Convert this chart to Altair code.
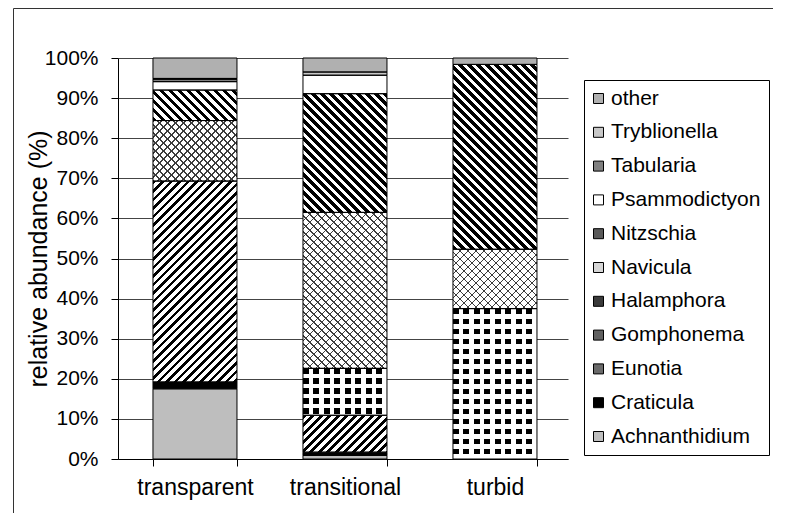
import altair as alt
import pandas as pd

# ---------------- data ----------------
categories = ["transparent", "transitional", "turbid"]
species = ["Achnanthidium", "Craticula", "Eunotia", "Gomphonema", "Halamphora",
           "Navicula", "Nitzschia", "Psammodictyon", "Tabularia", "Tryblionella", "other"]
transparent = [17.5, 1.7, 0.0, 50.1, 0.0, 15.1, 7.6, 2.1, 0.6, 0.2, 5.1]
transitional = [0.9, 0.8, 0.0, 9.2, 11.7, 38.9, 29.6, 4.6, 0.0, 0.8, 3.5]
turbid = [0.0, 0.0, 0.0, 0.0, 37.5, 14.8, 46.1, 0.0, 0.0, 0.0, 1.6]
y_ticks = list(range(0, 101, 10))

legend_order = species[::-1]
flat_colors = {
    "other": "#b0b0b0", "Tryblionella": "#c8c8c8", "Tabularia": "#808080",
    "Psammodictyon": "#ffffff", "Nitzschia": "#5a5a5a", "Navicula": "#d6d6d6",
    "Halamphora": "#3a3a3a", "Gomphonema": "#606060", "Eunotia": "#6a6a6a",
    "Craticula": "#000000", "Achnanthidium": "#bebebe",
}

# ---------------- layout ----------------
PLOT_W, PLOT_H = 450, 401
PAD_IN, PAD_OUT = 0.44, 0.22
STEP = PLOT_W / (len(categories) - PAD_IN + 2 * PAD_OUT)
BAR_W = STEP * (1 - PAD_IN)

rows = []
for cat, vals in zip(categories, [transparent, transitional, turbid]):
    acc = 0.0
    for sp, v in zip(species, vals):
        if v > 0:
            rows.append(dict(cat=cat, species=sp, value=v, y0=acc, y1=acc + v))
        acc += v
df = pd.DataFrame(rows)


# ---------------- hatch patterns via gradients ----------------
def stripe_stops(span, period, frac, on, off):
    out = []
    s = 0.0
    while s < span - 1e-9:
        e1 = min(s + frac * period, span)
        e2 = min(s + period, span)
        out.append({"offset": round(s / span, 5), "color": on})
        out.append({"offset": round(e1 / span, 5), "color": on})
        if e1 < span:
            out.append({"offset": round(e1 / span, 5), "color": off})
            out.append({"offset": round(e2 / span, 5), "color": off})
        s += period
    return out


def hatch(kind, W, H, period, frac, on, off):
    if kind == "back":      # "\" stripes
        a = (W + H) / (W * W + H * H)
        g = dict(x1=0, y1=1, x2=a * W, y2=1 - a * H)
        span = W + H
    elif kind == "fwd":     # "/" stripes
        a = (W + H) / (W * W + H * H)
        g = dict(x1=0, y1=0, x2=a * W, y2=a * H)
        span = W + H
    elif kind == "horiz":
        g = dict(x1=0, y1=0, x2=0, y2=1)
        span = H
    else:                   # vertical
        g = dict(x1=0, y1=0, x2=1, y2=0)
        span = W
    return {"gradient": "linear", **g, "stops": stripe_stops(span, period, frac, on, off)}


patterns = {
    "Nitzschia": [("back", 9.0, 0.5, "black", "white")],
    "Gomphonema": [("fwd", 8.5, 0.45, "black", "white")],
    "Navicula": [("back", 8.0, 0.2, "#3c3c3c", "white"),
                 ("fwd", 8.0, 0.2, "#3c3c3c", "transparent")],
    "Halamphora": [("horiz", 10.0, 0.55, "black", "white"),
                   ("vert", 10.5, 0.55, "transparent", "white")],
}

x_scale = alt.Scale(domain=categories, paddingInner=PAD_IN, paddingOuter=PAD_OUT, align=0.53)
y_scale = alt.Scale(domain=[0, 100], nice=False)

x_axis = alt.Axis(title=None, labelAngle=0, labelFontSize=23, labelColor="black",
                  labelPadding=10, tickSize=7, tickColor="black", domainColor="black",
                  tickBand="extent", grid=False)
y_axis = alt.Axis(values=y_ticks, labelExpr="datum.value + '%'",
                  title="relative abundance (%)", titleFontSize=25, titleFontWeight="normal",
                  titleColor="black", titleX=-72, titleY=PLOT_H / 2, titleAngle=-90,
                  titleAlign="center", titleBaseline="alphabetic",
                  labelFontSize=21, labelColor="black", labelPadding=13,
                  tickSize=7, tickColor="black", domainColor="black",
                  grid=True, gridColor="#444444", gridWidth=1)

X = alt.X("cat:N", scale=x_scale, axis=x_axis)
Y = alt.Y("y0:Q", scale=y_scale, axis=y_axis)

base = alt.Chart(df).mark_bar().encode(
    x=X, y=Y, y2="y1:Q",
    color=alt.Color(
        "species:N",
        scale=alt.Scale(domain=legend_order, range=[flat_colors[s] for s in legend_order]),
        legend=alt.Legend(title=None, orient="none", legendX=466, legendY=22,
                          symbolType="square", symbolSize=100, symbolStrokeColor="black",
                          symbolStrokeWidth=1, symbolOffset=-4, labelFontSize=21,
                          labelColor="black", labelOffset=2, rowPadding=11.8, padding=8,
                          strokeColor="black", fillColor="white", labelLimit=300),
    ),
)

overlays = []
for sp, pats in patterns.items():
    for cat in categories:
        sel = df[(df.species == sp) & (df.cat == cat)]
        if sel.empty:
            continue
        H = float(sel.value.iloc[0]) * PLOT_H / 100.0
        for kind, period, frac, on, off in pats:
            g = hatch(kind, BAR_W, H, period, frac, on, off)
            overlays.append(
                alt.Chart(df).transform_filter(
                    (alt.datum.species == sp) & (alt.datum.cat == cat)
                ).mark_bar(fill=g).encode(x=X, y=Y, y2="y1:Q")
            )

outline = alt.Chart(df).mark_bar(fillOpacity=0, stroke="black", strokeWidth=1).encode(
    x=X, y=Y, y2="y1:Q")

dummy = pd.DataFrame({"d": [0]})
frame_top = alt.Chart(dummy).mark_rule(color="#333333", strokeWidth=1).encode(
    x=alt.value(-104.5), x2=alt.value(660), y=alt.value(-49.5))
frame_left = alt.Chart(dummy).mark_rule(color="#333333", strokeWidth=1).encode(
    x=alt.value(-104.5), y=alt.value(-49.5), y2=alt.value(470))

chart = alt.layer(base, *overlays, outline, frame_top, frame_left).properties(
    width=PLOT_W, height=PLOT_H,
    autosize=alt.AutoSizeParams(type="none"),
    padding={"left": 110, "top": 50, "right": 205, "bottom": 54},
).configure(font="Liberation Sans").configure_view(stroke=None)

chart.save("out.html", embed_options={"renderer": "svg", "actions": False})
